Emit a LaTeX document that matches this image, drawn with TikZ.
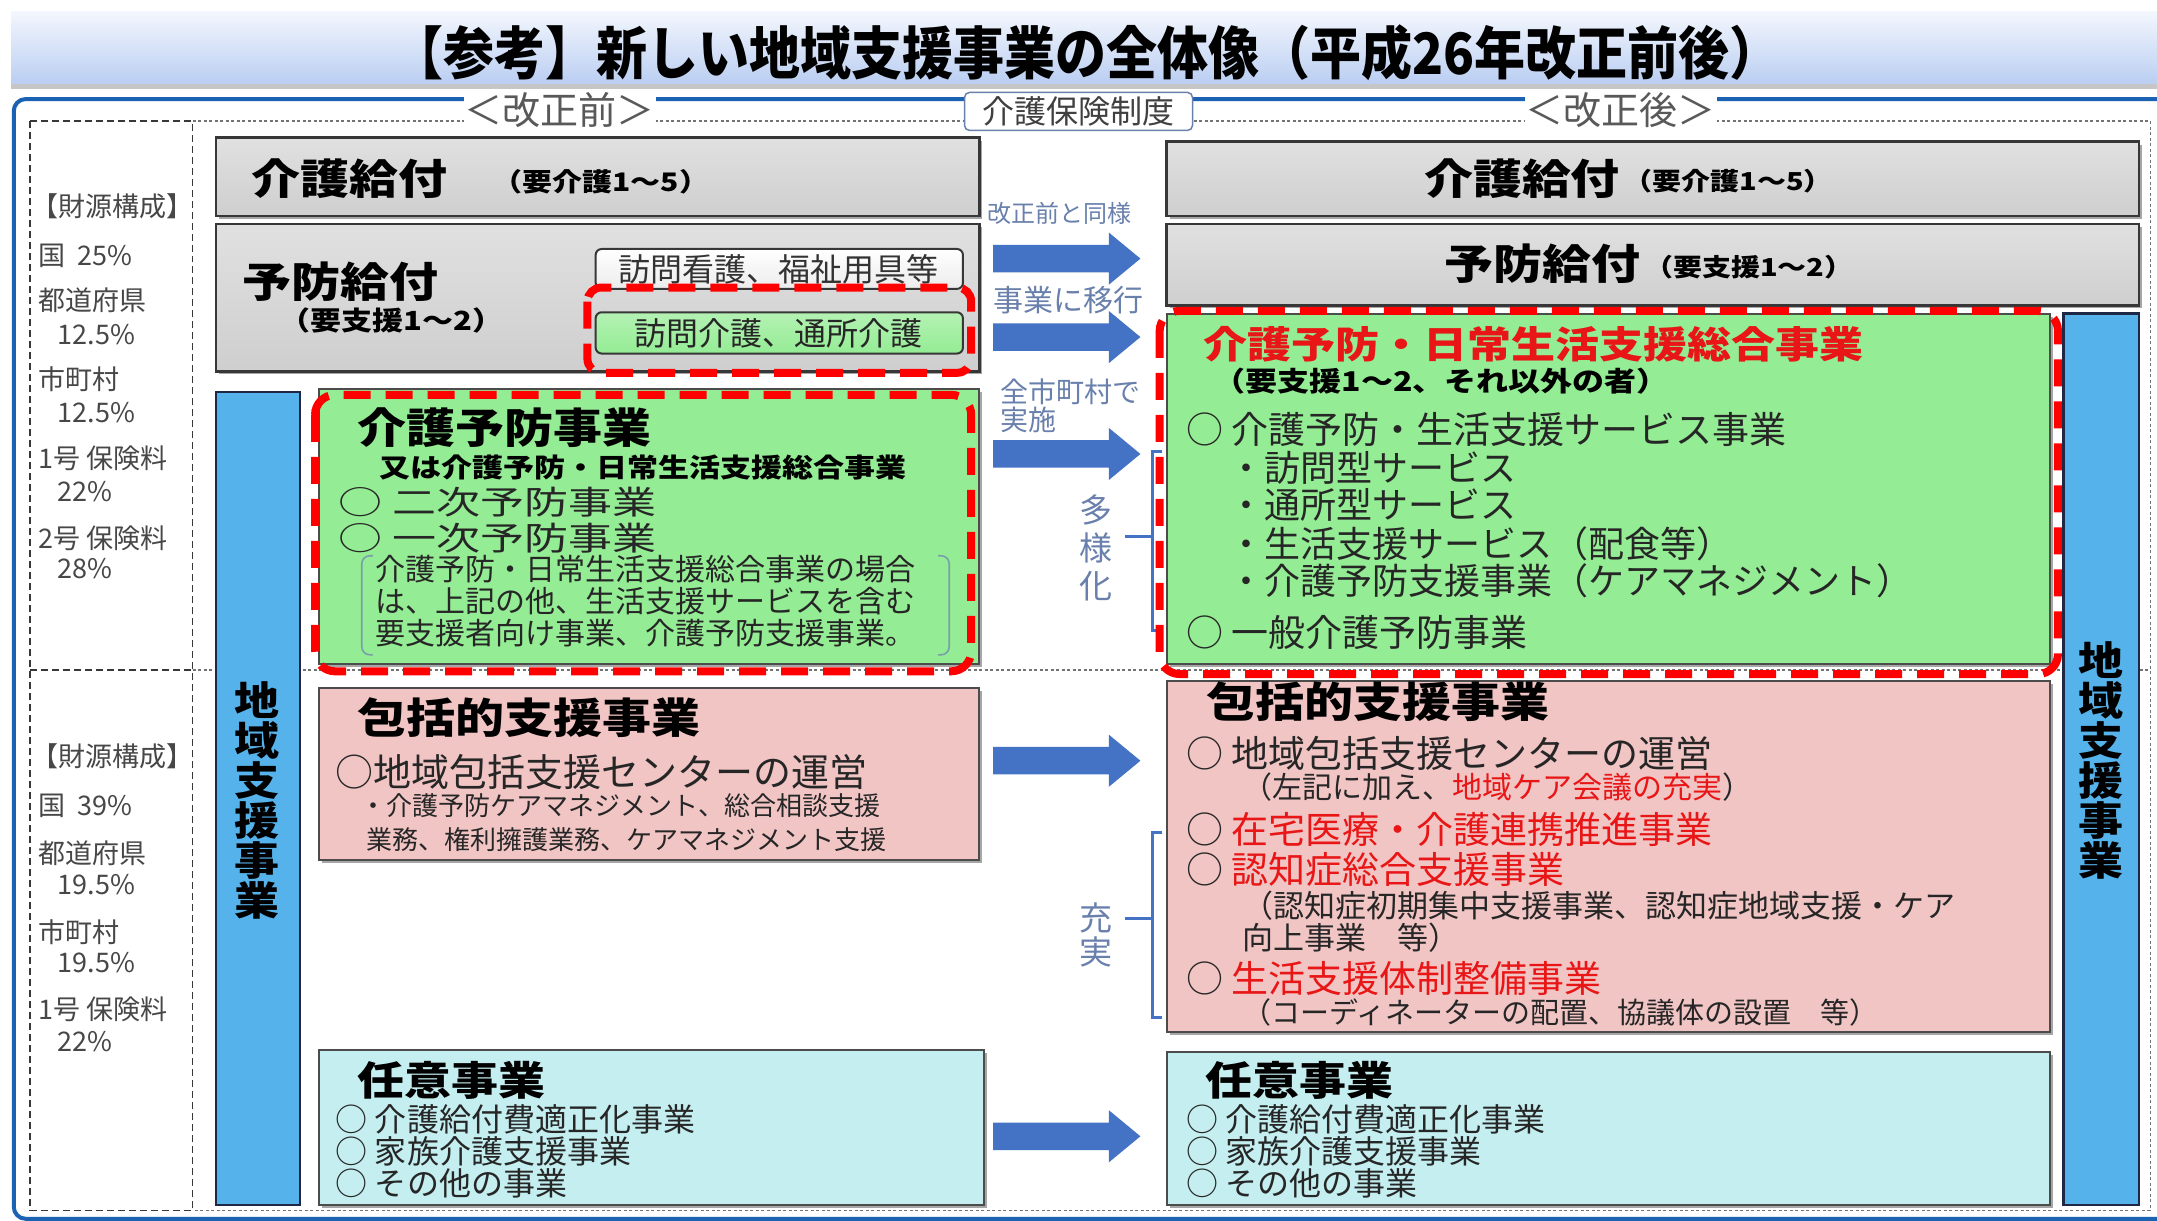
\documentclass[tikz,border=0pt]{standalone}
\usepackage{fontspec}
\usepackage{graphicx}
\setmainfont{Noto Sans CJK JP}
\usetikzlibrary{shadows}
\definecolor{arrowblue}{RGB}{68,114,196}
\definecolor{frameblue}{RGB}{28,98,178}
\definecolor{boxgreen}{RGB}{148,236,148}
\definecolor{boxpink}{RGB}{242,197,197}
\definecolor{boxcyan}{RGB}{196,238,240}
\definecolor{barblue}{RGB}{86,178,234}
\definecolor{txtred}{RGB}{232,22,22}
\definecolor{labblue}{RGB}{105,128,172}
\definecolor{edge}{RGB}{55,55,55}
\definecolor{navy}{RGB}{30,40,70}
\definecolor{bandtop}{RGB}{244,247,253}
\definecolor{bandbot}{RGB}{186,206,242}
\definecolor{parcol}{RGB}{120,160,170}
\newcommand\myfs[2]{\fontsize{#1pt}{#2pt}\selectfont}
\newcommand\hd[1]{\scalebox{1}[0.85]{#1}}
\newcommand\sq[1]{\scalebox{1}[0.74]{#1}}
\newcommand\barrow[1]{\fill[arrowblue] (722,{#1-10}) -- (806,{#1-10}) -- (806,{#1-19}) -- (829,#1) -- (806,{#1+19}) -- (806,{#1+10}) -- (722,{#1+10}) -- cycle;}
\begin{document}
\begin{tikzpicture}[x=1.3757pt,y=-1.3757pt,
  lab/.style={inner sep=0pt, anchor=west, text=black!85},
  myshadow/.style={drop shadow={shadow xshift=3pt,shadow yshift=-3pt,opacity=0.35,fill=black}},
  graybox/.style={draw=edge, line width=2.5pt, top color=gray!24, bottom color=gray!38, myshadow},
  greenbox/.style={draw=black!70, line width=2pt, fill=boxgreen, myshadow},
  pinkbox/.style={draw=black!70, line width=2pt, fill=boxpink, myshadow},
  cyanbox/.style={draw=black!70, line width=2pt, fill=boxcyan, myshadow},
  barbox/.style={draw=navy, line width=2.5pt, fill=barblue},
  reddash/.style={draw=red, line width=8pt, dash pattern=on 27pt off 15pt, rounded corners=20pt},
  dashA/.style={draw=black!78, line width=1.8pt, dash pattern=on 7pt off 4pt},
  dashB/.style={draw=black!55, line width=1.3pt, dash pattern=on 3pt off 2.5pt},
  brk/.style={draw=arrowblue, line width=3pt},
  note/.style={inner sep=0pt, text=labblue},
  lcol/.style={inner sep=0pt, anchor=west, text=black!72, font=\myfs{27}{30}},
  vtext/.style={inner sep=0pt, align=center, font=\myfs{45}{40}\bfseries, text=black},
]
\useasboundingbox (0,0) rectangle (1568,887);
\clip (0,0) rectangle (1568,887);
\fill[white] (0,0) rectangle (1568,887);

% title band
\fill[gray!45] (8,10) rectangle (1568,65);
\shade[top color=bandtop, bottom color=bandbot] (8,8) rectangle (1568,61);
\node[inner sep=0pt, font=\myfs{51}{51}\bfseries] (title) at (790,38) {\scalebox{1}[1.12]{【参考】新しい地域支援事業の全体像（平成26年改正前後）}};

% outer frame
\draw[frameblue, line width=4pt, rounded corners=12pt] (10,72) rectangle (1600,886);

% dashed grid
\draw[dashB] (140,88) -- (1563,88) -- (1563,880) -- (140,880);
\draw[dashB] (140,487) -- (1563,487);
\draw[dashA] (22,88) rectangle (140,880);
\draw[dashA] (22,487) -- (140,487);

% frame labels
\node[fill=white, inner sep=1pt, font=\myfs{38}{38}, text=black!65] (kb) at (407,80) {＜改正前＞};
\node[fill=white, inner sep=1pt, font=\myfs{38}{38}, text=black!65] (ka) at (1178,80) {＜改正後＞};
\node[draw=labblue, line width=1.5pt, rounded corners=5pt, fill=white, inner xsep=18pt, inner ysep=3pt, minimum height=38pt, font=\myfs{32}{32}, text=black!75] (kh) at (784,81) {介護保険制度};

% left column
\node[lcol] (lc1) at (23,150) {【財源構成】};
\node[lcol] (lc2) at (28,186) {国\hspace{12pt}25\%};
\node[lcol] (lc3) at (28,218) {都道府県};
\node[lcol] (lc4) at (42,243) {12.5\%};
\node[lcol] (lc5) at (28,276) {市町村};
\node[lcol] (lc6) at (42,300) {12.5\%};
\node[lcol] (lc7) at (28,333) {1号 保険料};
\node[lcol] (lc8) at (42,357) {22\%};
\node[lcol] (lc9) at (28,391) {2号 保険料};
\node[lcol] (lc10) at (42,413) {28\%};
\node[lcol] (ld1) at (23,550) {【財源構成】};
\node[lcol] (ld2) at (28,586) {国\hspace{12pt}39\%};
\node[lcol] (ld3) at (28,620) {都道府県};
\node[lcol] (ld4) at (42,643) {19.5\%};
\node[lcol] (ld5) at (28,678) {市町村};
\node[lcol] (ld6) at (42,700) {19.5\%};
\node[lcol] (ld7) at (28,734) {1号 保険料};
\node[lcol] (ld8) at (42,757) {22\%};

% gray boxes
\draw[graybox] (157,100) rectangle (712,157);
\draw[graybox] (157,163) rectangle (712,270);
\draw[graybox] (848,103) rectangle (1555,157);
\draw[graybox] (848,163) rectangle (1555,222);
\node[lab, font=\myfs{49}{49}\bfseries, text=black] (kyL1) at (183,130) {\hd{介護給付}};
\node[lab, font=\myfs{30}{30}\bfseries, text=black] (kyL2) at (358,132) {\hd{（要介護1～5）}};
\node[lab, font=\myfs{49}{49}\bfseries, text=black] (ybL1) at (176,205) {\hd{予防給付}};
\node[lab, font=\myfs{31}{31}\bfseries, text=black] (ybL2) at (203,233) {\hd{（要支援1～2）}};
\node[lab, font=\myfs{49}{49}\bfseries, text=black] (kyR1) at (1035,130) {\hd{介護給付}};
\node[lab, font=\myfs{29}{29}\bfseries, text=black] (kyR2) at (1180,132) {\hd{（要介護1～5）}};
\node[lab, font=\myfs{49}{49}\bfseries, text=black] (ybR1) at (1050,192) {\hd{予防給付}};
\node[lab, font=\myfs{29}{29}\bfseries, text=black] (ybR2) at (1195,194) {\hd{（要支援1～2）}};

% small boxes in 予防給付
\draw[draw=edge, line width=2pt, rounded corners=6pt, top color=white, bottom color=gray!15] (433,181) rectangle (700,210);
\node[inner sep=0pt, font=\myfs{32}{32}, text=black!80] (hk) at (566,196) {訪問看護、福祉用具等};
\draw[draw=edge, line width=2pt, rounded corners=6pt, top color=boxgreen!70, bottom color=boxgreen] (433,227) rectangle (700,257);
\node[inner sep=0pt, font=\myfs{32}{32}, text=black!85] (hks) at (566,242) {訪問介護、通所介護};

% blue bars
\draw[barbox] (157,285) rectangle (218,876);
\draw[barbox] (1500,228) rectangle (1555,876);
\node[vtext] (vL) at (187,582) {\scalebox{1}[0.88]{地}\\\scalebox{1}[0.88]{域}\\\scalebox{1}[0.88]{支}\\\scalebox{1}[0.88]{援}\\\scalebox{1}[0.88]{事}\\\scalebox{1}[0.88]{業}};
\node[vtext] (vR) at (1527,553) {\scalebox{1}[0.88]{地}\\\scalebox{1}[0.88]{域}\\\scalebox{1}[0.88]{支}\\\scalebox{1}[0.88]{援}\\\scalebox{1}[0.88]{事}\\\scalebox{1}[0.88]{業}};

% left green
\draw[greenbox] (232,283) rectangle (712,483);
\node[lab, font=\myfs{49}{49}\bfseries, text=black] (g1) at (260,311) {\hd{介護予防事業}};
\node[lab, font=\myfs{31}{31}\bfseries, text=black] (g2) at (276,340) {\hd{又は介護予防・日常生活支援総合事業}};
\node[lab, font=\myfs{44}{44}] (g3) at (246,365) {\sq{○ 二次予防事業}};
\node[lab, font=\myfs{44}{44}] (g4) at (246,391) {\sq{○ 一次予防事業}};
\node[lab, font=\myfs{30}{31.6}, align=left] (g5) at (273,437) {介護予防・日常生活支援総合事業の場合\\は、上記の他、生活支援サービスを含む\\要支援者向け事業、介護予防支援事業。};
\draw[parcol, line width=1.6pt, rounded corners=8pt] (271,404) -- (263,404) -- (263,476) -- (271,476);
\draw[parcol, line width=1.6pt, rounded corners=8pt] (682,404) -- (690,404) -- (690,476) -- (682,476);

% right green
\draw[greenbox] (848,228) rectangle (1490,483);
\node[lab, font=\myfs{44}{44}\bfseries, text=txtred] (G1) at (875,250) {\hd{介護予防・日常生活支援総合事業}};
\node[lab, font=\myfs{32}{32}\bfseries, text=black] (G2) at (882,277) {\hd{（要支援1～2、それ以外の者）}};
\node[lab, font=\myfs{37}{37}] (G3) at (862,312) {○ 介護予防・生活支援サービス事業};
\node[lab, font=\myfs{36}{36}] (G4) at (893,340) {・訪問型サービス};
\node[lab, font=\myfs{36}{36}] (G5) at (893,367) {・通所型サービス};
\node[lab, font=\myfs{36}{36}] (G6) at (893,395) {・生活支援サービス（配食等）};
\node[lab, font=\myfs{36}{36}] (G7) at (893,422) {・介護予防支援事業（ケアマネジメント）};
\node[lab, font=\myfs{37}{37}] (G8) at (862,460) {○ 一般介護予防事業};

% pink left
\draw[pinkbox] (232,500) rectangle (712,625);
\node[lab, font=\myfs{49}{49}\bfseries, text=black] (p1) at (260,522) {\hd{包括的支援事業}};
\node[lab, font=\myfs{38}{38}] (p2) at (244,561) {○地域包括支援センターの運営};
\node[lab, font=\myfs{26}{26}] (p3) at (262,586) {・介護予防ケアマネジメント、総合相談支援};
\node[lab, font=\myfs{26}{26}] (p4) at (266,610) {業務、権利擁護業務、ケアマネジメント支援};

% pink right
\draw[pinkbox] (848,495) rectangle (1490,750);
\node[lab, font=\myfs{49}{49}\bfseries, text=black] (P1) at (877,510) {\hd{包括的支援事業}};
\node[lab, font=\myfs{37}{37}] (P2) at (862,548) {○ 地域包括支援センターの運営};
\node[lab, font=\myfs{30}{30}] (P3) at (903,572) {（左記に加え、\textcolor{txtred}{地域ケア会議の充実}）};
\node[lab, font=\myfs{37}{37}] (P4) at (862,603) {○ \textcolor{txtred}{在宅医療・介護連携推進事業}};
\node[lab, font=\myfs{37}{37}] (P5) at (862,632) {○ \textcolor{txtred}{認知症総合支援事業}};
\node[lab, font=\myfs{31}{31.6}, align=left] (P6) at (903,670) {（認知症初期集中支援事業、認知症地域支援・ケア\\向上事業　等）};
\node[lab, font=\myfs{37}{37}] (P7) at (862,711) {○ \textcolor{txtred}{生活支援体制整備事業}};
\node[lab, font=\myfs{29}{29}] (P8) at (903,736) {（コーディネーターの配置、協議体の設置　等）};

% cyan
\draw[cyanbox] (232,763) rectangle (715,876);
\node[lab, font=\myfs{47}{47}\bfseries, text=black] (c1) at (260,785) {\hd{任意事業}};
\node[lab, font=\myfs{32}{31.6}, align=left] (c2) at (244,837) {○ 介護給付費適正化事業\\○ 家族介護支援事業\\○ その他の事業};
\draw[cyanbox] (848,765) rectangle (1490,876);
\node[lab, font=\myfs{47}{47}\bfseries, text=black] (C1) at (876,785) {\hd{任意事業}};
\node[lab, font=\myfs{32}{31.6}, align=left] (C2) at (862,837) {○ 介護給付費適正化事業\\○ 家族介護支援事業\\○ その他の事業};

% arrows and notes
\node[note, font=\myfs{24}{24}] (m1) at (770,155) {改正前と同様};
\node[note, font=\myfs{30}{30}] (m2) at (777,218) {事業に移行};
\node[note, font=\myfs{28}{28}, anchor=west] (m3) at (727,285) {全市町村で};
\node[note, font=\myfs{28}{28}, anchor=west] (m4) at (727,305) {実施};
\barrow{188}
\barrow{245}
\barrow{330}
\barrow{553}
\barrow{826}

% brackets
\draw[brk] (845,328) -- (838,328) -- (838,458) -- (845,458);
\draw[brk] (838,390) -- (818,390);
\node[note, font=\myfs{33}{38}, align=center] (tayo) at (797,398) {多\\様\\化};
\draw[brk] (845,605) -- (838,605) -- (838,740) -- (845,740);
\draw[brk] (838,668) -- (818,668);
\node[note, font=\myfs{33}{34}, align=center] (juji) at (797,680) {充\\実};

% red dashed outlines
\draw[reddash, rounded corners=14pt] (427,209) rectangle (706,271);
\draw[reddash] (229,287) rectangle (706,488);
\draw[reddash] (843,226) rectangle (1496,490);
\end{tikzpicture}
\end{document}
